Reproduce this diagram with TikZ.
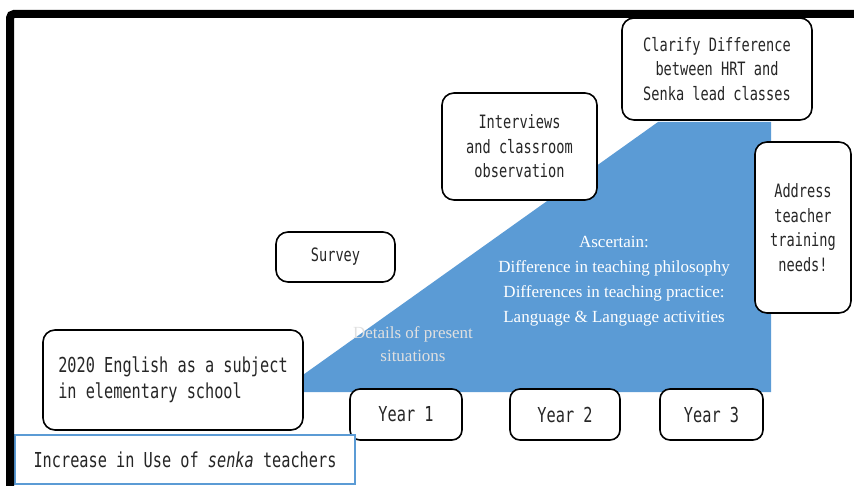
\documentclass[tikz,border=0pt]{standalone}
\usepackage{fontspec}
\setmainfont{Liberation Serif}
\newfontfamily\boxmono[FakeStretch=0.74]{DejaVu Sans Mono}
\definecolor{areablue}{RGB}{91,155,213}

\begin{document}
\begin{tikzpicture}[x=1pt,y=-1pt,
  box/.style={draw=black, line width=1.6pt, fill=white, rounded corners=12pt,
    align=center, inner sep=0pt, text=black!85,
    font=\boxmono\fontsize{18.4}{24.5}\selectfont},
  bigbox/.style={box, font=\boxmono\fontsize{20.6}{26.5}\selectfont},
  plainbox/.style={draw=areablue, line width=1.4pt, fill=white, inner sep=0pt,
    text=black!85, font=\boxmono\fontsize{20.6}{26.5}\selectfont},
  areatext/.style={align=center, inner sep=0pt, text=white,
    font=\fontsize{17}{25}\selectfont},
]
\useasboundingbox (0,0) rectangle (854,486);

% rising area behind the timeline
\fill[areablue] (279,392) -- (658,122) -- (771,122) -- (771,392) -- cycle;

% text on the rising area
\node[areatext, text=white!88!black, font=\fontsize{17}{23}\selectfont] (details) at (413,344)
  {Details of present\\situations};
\node[areatext] (ascertain) at (614,281)
  {Ascertain:\\Difference in teaching philosophy\\Differences in teaching practice:\\Language \& Language activities};

% stages
\node[box, minimum width=190pt, minimum height=102pt] (clarify) at (717,69)
  {Clarify Difference\\between HRT and\\Senka lead classes};
\node[box, minimum width=96pt, minimum height=171pt] (address) at (803,227.5)
  {Address\\teacher\\training\\needs!};
\node[box, minimum width=155pt, minimum height=107pt] (interviews) at (519.5,146.5)
  {Interviews\\and classroom\\observation};
\node[box, minimum width=119pt, minimum height=50pt] (survey) at (335.5,257)
  {Survey};
\node[bigbox, align=left, minimum width=260pt, minimum height=100pt] (start) at (173,380)
  {2020 English as a subject\\in elementary school};

% years
\node[bigbox, rounded corners=10pt, minimum width=112pt, minimum height=51pt] (y1) at (406,414.5) {Year 1};
\node[bigbox, rounded corners=10pt, minimum width=110pt, minimum height=51pt] (y2) at (565,414.5) {Year 2};
\node[bigbox, rounded corners=10pt, minimum width=103pt, minimum height=51pt] (y3) at (711.5,414.5) {Year 3};

% caption strip
\node[plainbox, minimum width=340pt, minimum height=49pt] (increase) at (185,459.5)
  {Increase in Use of \textit{senka} teachers};

% outer frame
\draw[line width=8pt, rounded corners=4pt] (10,486) -- (10,14) -- (854,14);
\end{tikzpicture}
\end{document}
